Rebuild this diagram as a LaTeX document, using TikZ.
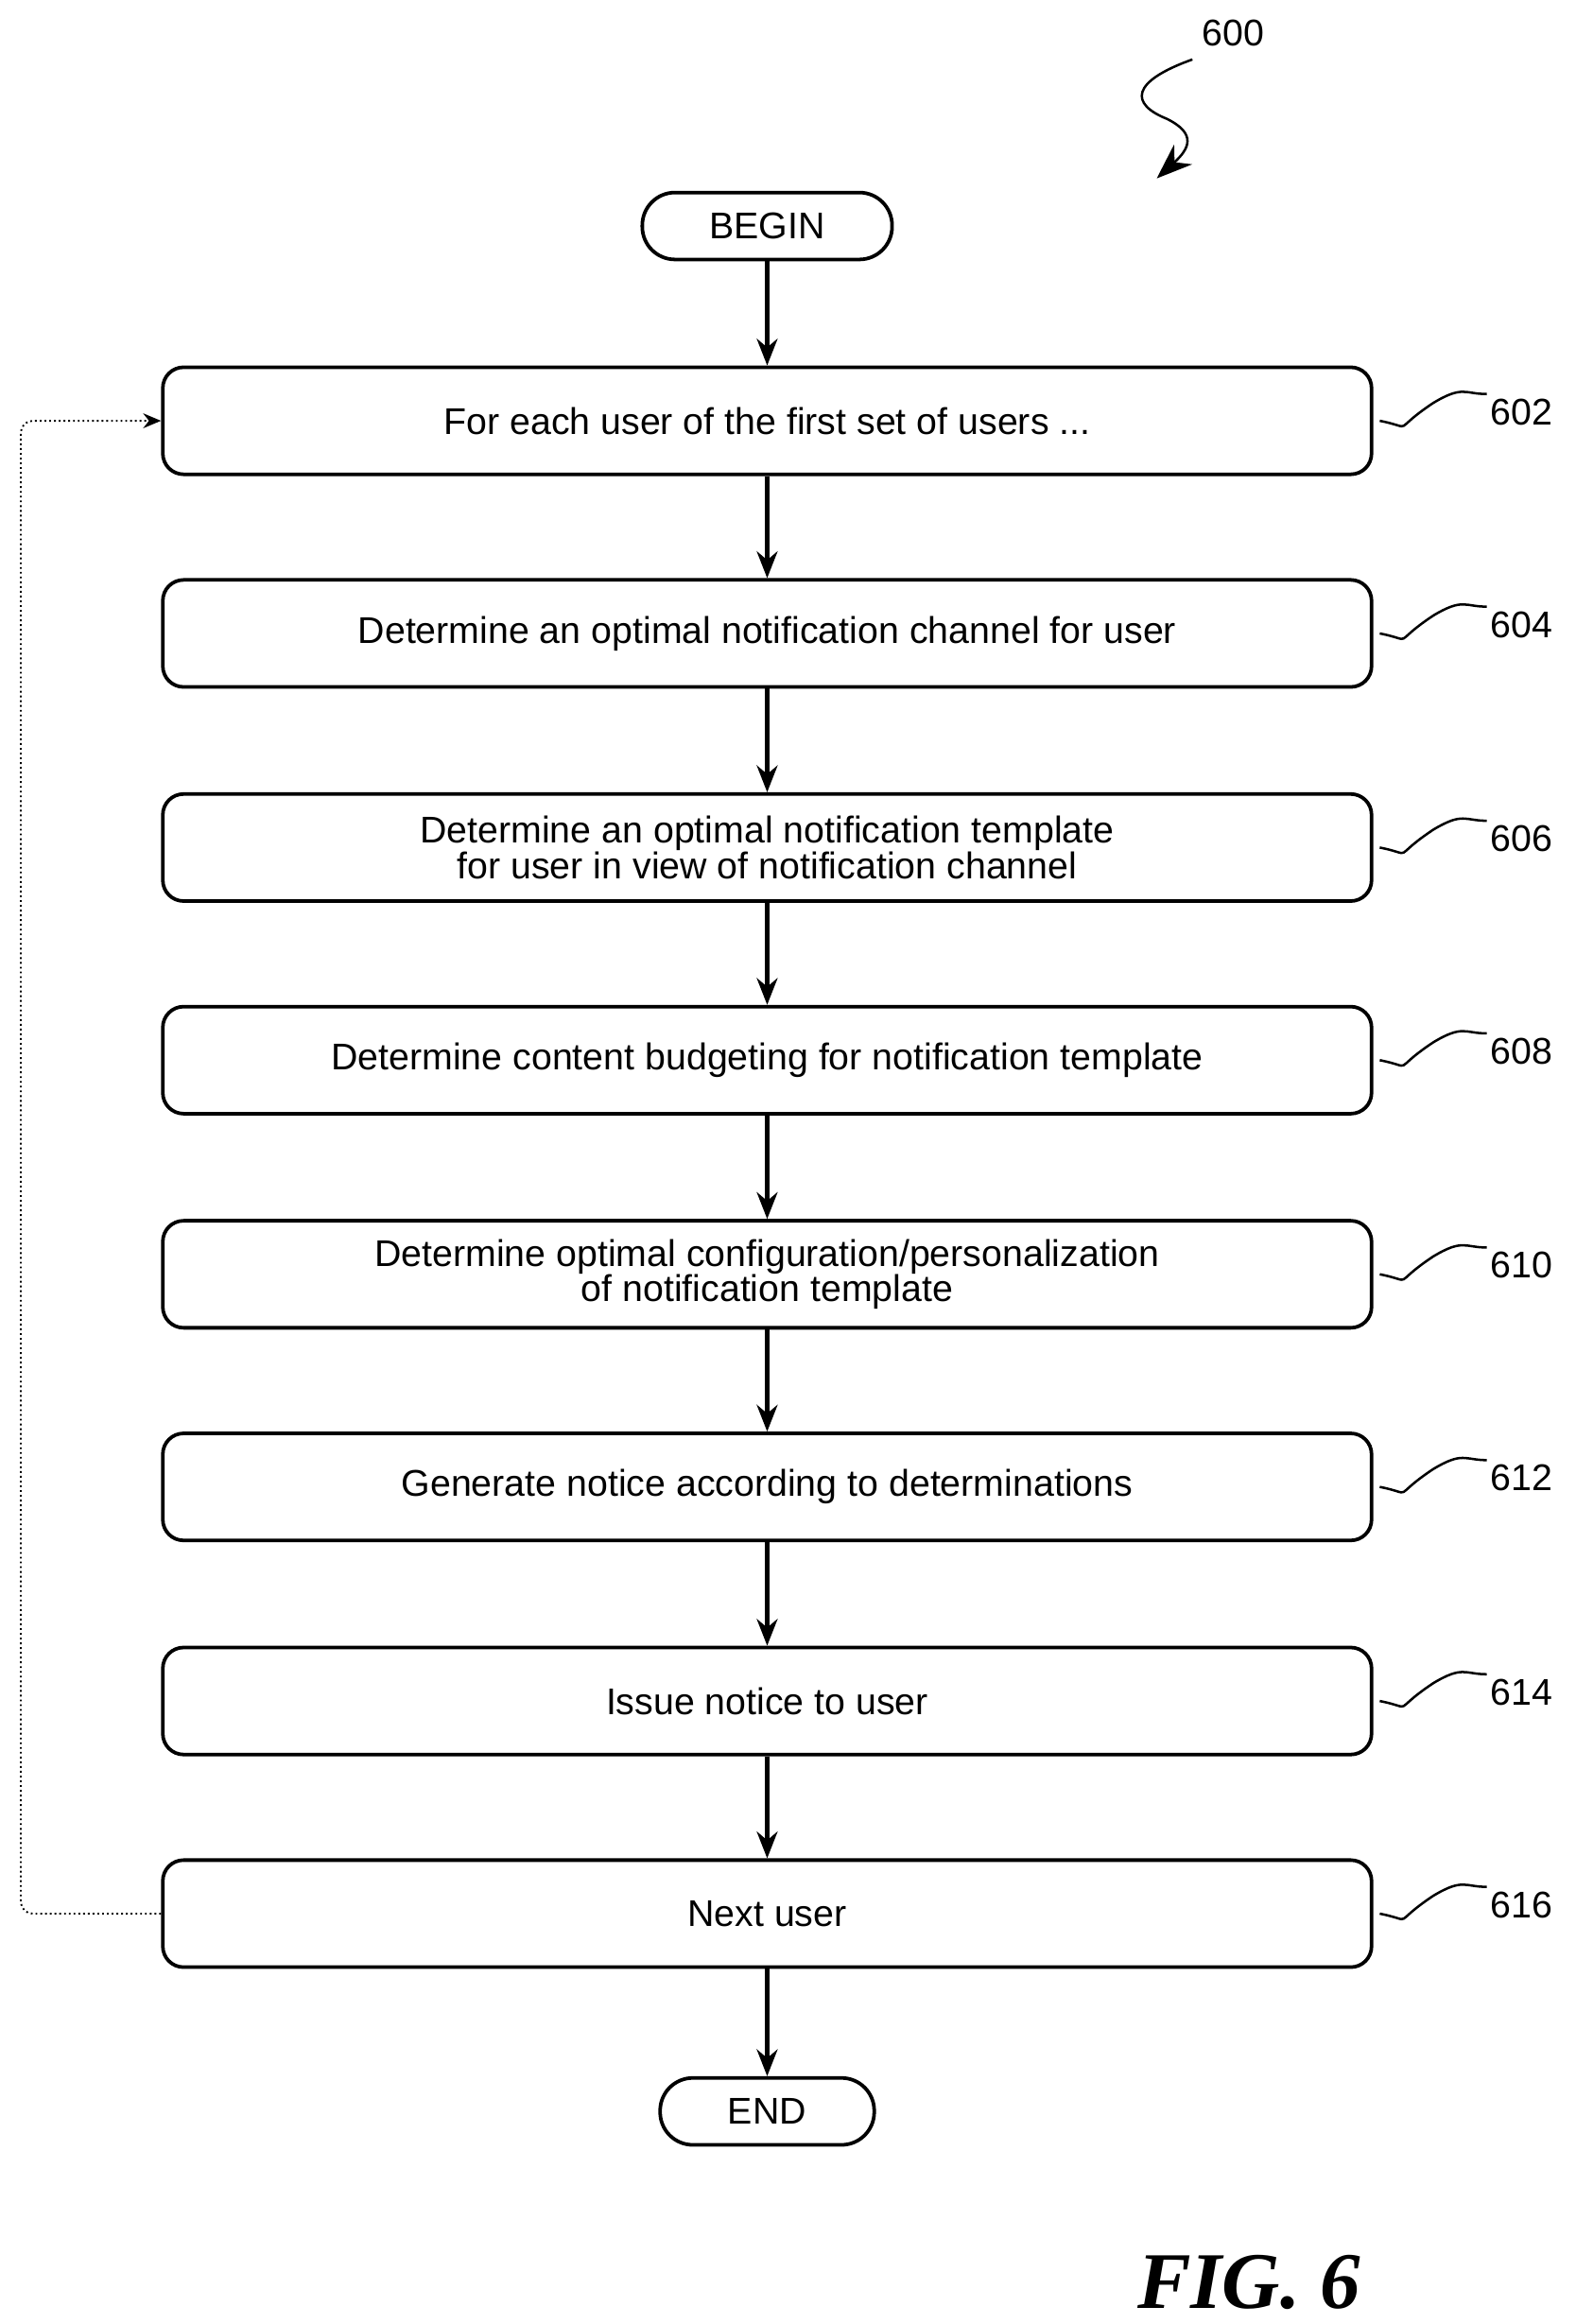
\documentclass[tikz,border=0pt]{standalone}
\usepackage{fontspec}
\setmainfont{Liberation Sans}
\newfontfamily\figfont{Liberation Serif}
\usetikzlibrary{arrows.meta}
\begin{document}
\begin{tikzpicture}[x=0.5pt,y=-0.5pt,
 box/.style={draw,line width=1.2pt,rounded corners=7pt,minimum width=406.5pt,minimum height=36pt,align=center,font=\fontsize{12.5}{12}\selectfont,inner sep=0pt},
 term/.style={draw,line width=1.2pt,rounded corners=11pt,minimum height=22.5pt,font=\fontsize{12.5}{14}\selectfont,inner sep=0pt},
 arr/.style={-{Stealth[length=9pt,width=7pt]},line width=1.3pt},
 lab/.style={font=\fontsize{12.5}{14}\selectfont,anchor=west,inner sep=0pt},
 sq/.style={line width=0.8pt}]
\useasboundingbox (0,0) rectangle (1060,1563);
\node[term,minimum width=84pt] (b) at (516,152) {BEGIN};
\node[term,minimum width=72pt] (e) at (516,1420) {END};
\foreach \n/\y/\t in {602/283/{For each user of the first set of users ...},
 604/426/{Determine an optimal notification channel for user},
 606/570/{Determine an optimal notification template\\for user in view of notification channel},
 608/713/{Determine content budgeting for notification template},
 610/857/{Determine optimal configuration/personalization\\of notification template},
 612/1000/{Generate notice according to determinations},
 614/1144/{Issue notice to user},
 616/1287/{Next user}}{
 \node[box] (n\n) at (516,\y) {\t};
 \coordinate (s\n) at (928,\y);
 \draw[sq] (s\n) .. controls ++(25,5) and ++(-30,20) .. ++(36,-12) .. controls ++(20,-12) and ++(-15,0) .. ++(36,-6);
 \node[lab] (l\n) at (1002,\y-6) {\n};
}
\draw[arr] (b) -- (n602);
\draw[arr] (n602) -- (n604);
\draw[arr] (n604) -- (n606);
\draw[arr] (n606) -- (n608);
\draw[arr] (n608) -- (n610);
\draw[arr] (n610) -- (n612);
\draw[arr] (n612) -- (n614);
\draw[arr] (n614) -- (n616);
\draw[arr] (n616) -- (e);
\coordinate (c1) at (14,1287);
\coordinate (c2) at (14,283);
\draw[densely dotted,line width=0.6pt,-{Stealth[length=6pt,width=5pt]},rounded corners=4pt] (n616.west) -- (c1) -- (c2) -- (n602.west);
\node[lab] (l600) at (808,22) {600};
\coordinate (q1) at (802,40);
\coordinate (q2) at (778,120);
\draw[sq,-{Stealth[length=12pt,width=9pt]}] (q1) .. controls (760,55) and (760,70) .. (785,80) .. controls (805,90) and (800,100) .. (q2);
\node[font=\figfont\bfseries\itshape\fontsize{27}{30}\selectfont,inner sep=0pt] (fig) at (840,1535) {FIG. 6};
\end{tikzpicture}
\end{document}
